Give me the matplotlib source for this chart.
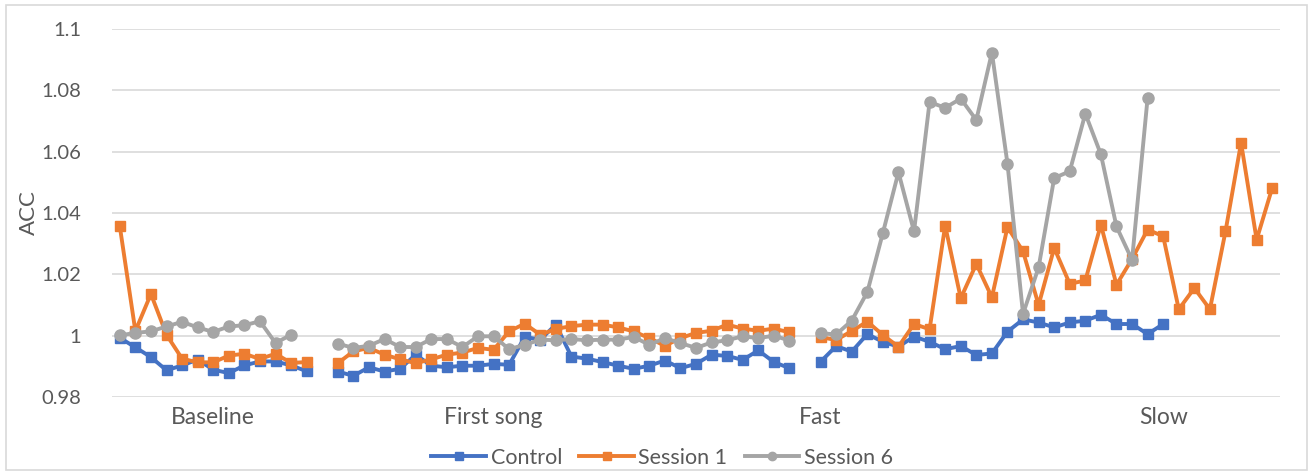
import numpy as np
import matplotlib
matplotlib.use("Agg")
import matplotlib.pyplot as plt
from matplotlib.patches import Rectangle

nan = np.nan

# ---- data -------------------------------------------------------------
n_categories = 75
category_labels = {6: "Baseline", 24: "First song", 45: "Fast", 67: "Slow"}

control = (
    [0.9993, 0.9962, 0.9930, 0.9887, 0.9903, 0.9922, 0.9889, 0.9878, 0.9903, 0.9916, 0.9916, 0.9903, 0.9884]
    + [nan]
    + [0.9883, 0.9869, 0.9897, 0.9883, 0.9892, 0.9938, 0.9902, 0.9897, 0.9902, 0.9902, 0.9908, 0.9905, 0.9996, 0.9987, 1.0036,
       0.9932, 0.9925, 0.9914, 0.9902, 0.9892, 0.9902, 0.9919, 0.9894, 0.9908, 0.9938, 0.9934, 0.9921, 0.9952, 0.9914, 0.9894]
    + [nan]
    + [0.9915, 0.9966, 0.9948, 1.0005, 0.9980, 0.9964, 0.9997, 0.9980, 0.9956, 0.9966, 0.9937, 0.9942, 1.0013, 1.0053, 1.0043,
       1.0027, 1.0043, 1.0049, 1.0068, 1.0038, 1.0038, 1.0005, 1.0038,
       nan, nan, nan, nan, nan, nan, nan]
)

session1 = (
    [1.0357, 1.0015, 1.0136, 1.0003, 0.9925, 0.9913, 0.9913, 0.9935, 0.9941, 0.9924, 0.9941, 0.9911, 0.9914]
    + [nan]
    + [0.9910, 0.9949, 0.9960, 0.9938, 0.9923, 0.9910, 0.9923, 0.9938, 0.9945, 0.9960, 0.9954, 1.0014, 1.0039, 1.0003, 1.0022,
       1.0031, 1.0036, 1.0036, 1.0027, 1.0014, 0.9992, 0.9967, 0.9992, 1.0009, 1.0016, 1.0036, 1.0023, 1.0016, 1.0023, 1.0011]
    + [nan]
    + [0.9995, 0.9986, 1.0015, 1.0046, 1.0002, 0.9964, 1.0038, 1.0021, 1.0359, 1.0122, 1.0234, 1.0125, 1.0354, 1.0275, 1.0100,
       1.0286, 1.0169, 1.0180, 1.0362, 1.0166, 1.0250, 1.0346, 1.0324, 1.0086, 1.0155, 1.0086, 1.0340, 1.0629, 1.0313, 1.0482]
)

session6 = (
    [1.0001, 1.0009, 1.0014, 1.0030, 1.0045, 1.0027, 1.0012, 1.0030, 1.0034, 1.0047, 0.9976, 1.0003, nan]
    + [nan]
    + [0.9974, 0.9960, 0.9967, 0.9989, 0.9963, 0.9963, 0.9989, 0.9989, 0.9963, 0.9998, 0.9998, 0.9956, 0.9970, 0.9987, 0.9985,
       0.9989, 0.9985, 0.9987, 0.9987, 0.9996, 0.9970, 0.9992, 0.9976, 0.9960, 0.9978, 0.9985, 0.9998, 0.9992, 1.0000, 0.9984]
    + [nan]
    + [1.0008, 1.0004, 1.0049, 1.0142, 1.0335, 1.0533, 1.0340, 1.0762, 1.0743, 1.0773, 1.0703, 1.0923, 1.0561, 1.0071, 1.0223,
       1.0514, 1.0536, 1.0724, 1.0591, 1.0356, 1.0247, 1.0776,
       nan, nan, nan, nan, nan, nan, nan, nan]
)

y_ticks = [0.98, 1.00, 1.02, 1.04, 1.06, 1.08, 1.10]
y_tick_labels = ["0.98", "1", "1.02", "1.04", "1.06", "1.08", "1.1"]

# ---- style ------------------------------------------------------------
plt.rcParams['font.family'] = ['Lato', 'DejaVu Sans']
text_color = "#595959"

fig = plt.figure(figsize=(13.11, 4.75), dpi=100)
ax = fig.add_axes([112 / 1311, 1 - 397 / 475, (1280 - 112) / 1311, (397 - 29) / 475])

x = np.arange(n_categories)
ax.plot(x, control, color="#4472C4", lw=2.8, marker="s", ms=6.5, label="Control", zorder=3)
ax.plot(x, session1, color="#ED7D31", lw=2.8, marker="s", ms=6.5, label="Session 1", zorder=4)
ax.plot(x, session6, color="#A5A5A5", lw=2.8, marker="o", ms=8, label="Session 6", zorder=5)

ax.set_xlim(-0.5, n_categories - 0.5)
ax.set_ylim(0.98, 1.10)
ax.set_yticks(y_ticks)
ax.set_yticklabels(y_tick_labels)
ax.set_xticks(list(category_labels.keys()))
ax.set_xticklabels(list(category_labels.values()))
ax.tick_params(axis="both", length=0, colors=text_color)
ax.tick_params(axis="y", pad=22, labelsize=14.5)
ax.tick_params(axis="x", pad=7, labelsize=16.5)
ax.grid(axis="y", color="#D9D9D9", lw=1.2)
ax.set_axisbelow(True)
for s in ax.spines.values():
    s.set_visible(False)
ax.set_ylabel("ACC", fontsize=16, color=text_color, labelpad=2)

leg = fig.legend(loc="center", bbox_to_anchor=(0.505, 1 - 458 / 475), ncol=3, frameon=False,
                 fontsize=15.5, handlelength=2.55, handletextpad=0.2, columnspacing=0.8, numpoints=1,
                 labelcolor=text_color)
for h in leg.legend_handles:
    h.set_markersize(6)

fig.add_artist(Rectangle((6 / 1311, 1 - 470 / 475), (1307 - 6) / 1311, (470 - 5) / 475,
                         transform=fig.transFigure, fill=False, edgecolor="#D9D9D9", lw=1.2))

fig.savefig("out.png", dpi=100)
